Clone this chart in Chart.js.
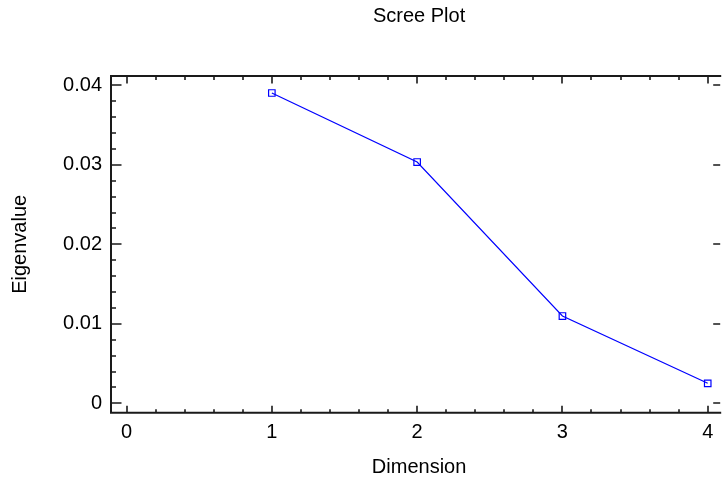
<!DOCTYPE html>
<html>
<head>
<meta charset="utf-8">
<script src="https://cdn.jsdelivr.net/npm/chart.js@4.4.1/dist/chart.umd.min.js"></script>
<style>
  html, body { margin: 0; padding: 0; background: #ffffff; }
  #wrap { width: 725px; height: 477px; position: relative; }
</style>
</head>
<body>
<div id="wrap"><canvas id="c" width="725" height="477"></canvas></div>
<script>
// ---- data ----
const chartTitle = "Scree Plot";
const xAxisTitle = "Dimension";
const yAxisTitle = "Eigenvalue";
const dimensions = [1, 2, 3, 4];
const eigenvalues = [0.03903, 0.03035, 0.01098, 0.00252];
const xTickValues = [0, 1, 2, 3, 4];
const yTickValues = [0, 0.01, 0.02, 0.03, 0.04];

const FONT = "'Liberation Sans', Arial, sans-serif";
const FONT_SIZE = 20;
const AXIS_COLOR = "#1a1a1a";

const points = dimensions.map((d, i) => ({ x: d, y: eigenvalues[i] }));

// titles centred over the (slightly clipped) plot frame, plus frame and inward tick marks
const frameTicks = {
  id: "frameTicks",
  afterDraw(chart) {
    const ctx = chart.ctx;
    const a = chart.chartArea;
    const xs = chart.scales.x, ys = chart.scales.y;
    const cx = (a.left + a.right) / 2 + 4;
    ctx.save();
    ctx.fillStyle = "#000";
    ctx.font = FONT_SIZE + "px " + FONT;
    ctx.textAlign = "center";
    ctx.textBaseline = "middle";
    ctx.fillText(chartTitle, cx, 16.5);
    ctx.fillText(xAxisTitle, cx, 467);

    ctx.strokeStyle = AXIS_COLOR;
    ctx.lineWidth = 2;
    ctx.beginPath();
    ctx.moveTo(a.right + 2, a.top); ctx.lineTo(a.left, a.top);
    ctx.lineTo(a.left, a.bottom); ctx.lineTo(a.right + 2, a.bottom);
    ctx.stroke();
    ctx.lineWidth = 1.6;
    ctx.beginPath();
    for (let k = 0; k <= 20; k++) {
      const v = k * 0.2;
      const px = Math.round(xs.getPixelForValue(v));
      const major = k % 5 === 0;
      const lb = major ? 7 : 3.5;
      const lt = major ? 7.5 : 4;
      ctx.moveTo(px, a.bottom); ctx.lineTo(px, a.bottom - lb);
      ctx.moveTo(px, a.top); ctx.lineTo(px, a.top + lt);
    }
    for (let k = 0; k <= 20; k++) {
      const v = k * 0.002;
      const py = Math.round(ys.getPixelForValue(v));
      const major = k % 5 === 0;
      const ll = major ? 10.5 : 5;
      ctx.moveTo(a.left, py); ctx.lineTo(a.left + ll, py);
      if (major) { ctx.moveTo(a.right + 1, py); ctx.lineTo(a.right - 6, py); }
    }
    ctx.stroke();
    ctx.restore();
  }
};

new Chart(document.getElementById("c"), {
  type: "line",
  data: {
    datasets: [{
      data: points,
      borderColor: "#0000ff",
      borderWidth: 1.2,
      backgroundColor: "rgba(0,0,0,0)",
      pointStyle: "rect",
      pointRadius: 4.6,
      pointBorderWidth: 1.2,
      pointBorderColor: "#0000ff",
      pointBackgroundColor: "rgba(0,0,0,0)",
      tension: 0,
      clip: false
    }]
  },
  options: {
    responsive: false,
    animation: false,
    devicePixelRatio: 1,
    layout: { padding: { left: 0, right: 0, top: 76, bottom: 0 } },
    plugins: {
      legend: { display: false },
      tooltip: { enabled: false },
      title: { display: false }
    },
    scales: {
      x: {
        type: "linear",
        min: -0.107,
        max: 4.079,
        afterBuildTicks(s) { s.ticks = xTickValues.map(v => ({ value: v })); },
        afterFit(s) { s.height = 477 - 412.7; },
        grid: { display: false, drawTicks: false },
        border: { display: false },
        ticks: {
          color: "#000",
          padding: 8,
          font: { family: FONT, size: FONT_SIZE },
          callback: v => String(v)
        },
        title: { display: false }
      },
      y: {
        type: "linear",
        min: -0.00118,
        max: 0.04117,
        afterBuildTicks(s) { s.ticks = yTickValues.map(v => ({ value: v })); },
        afterFit(s) { s.width = 111; },
        grid: { display: false, drawTicks: false },
        border: { display: false },
        ticks: {
          color: "#000",
          padding: 9,
          font: { family: FONT, size: FONT_SIZE },
          callback: v => (v === 0 ? "0" : v.toFixed(2))
        },
        title: {
          display: true,
          text: yAxisTitle,
          color: "#000",
          font: { family: FONT, size: FONT_SIZE },
          padding: { top: 8, bottom: 0 }
        }
      }
    }
  },
  plugins: [frameTicks]
});
</script>
</body>
</html>
